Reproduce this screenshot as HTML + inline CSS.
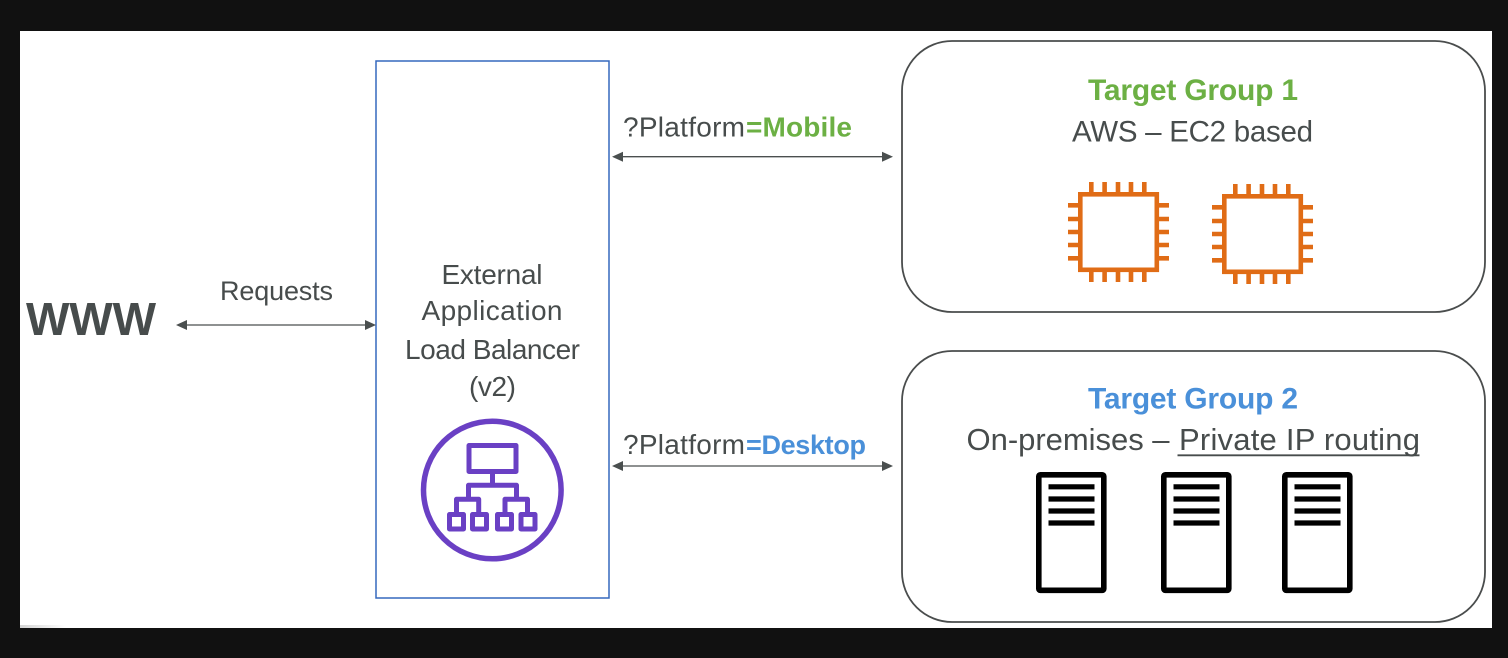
<!DOCTYPE html>
<html><head><meta charset="utf-8"><style>
html,body{margin:0;padding:0;background:#111;width:1508px;height:658px;overflow:hidden}
svg{display:block}
text{font-family:"Liberation Sans",sans-serif;fill:#474c4c}
.b{font-weight:bold}
</style></head><body>
<svg width="1508" height="658" viewBox="0 0 1508 658" xmlns="http://www.w3.org/2000/svg">
<defs>
<linearGradient id="g" x1="0" x2="1" y1="0" y2="0"><stop offset="0" stop-color="#d4d4d4"/><stop offset="1" stop-color="#fff"/></linearGradient>
<g id="chip" fill="none" stroke="#e06c16" stroke-width="4.600">
<rect x="2.300" y="2.300" width="76.500" height="75.500"/>
<path d="M13.300 2V-10M26.600 2V-10M40 2V-10M53 2V-10M66.300 2V-10M13.300 78V90M26.600 78V90M40 78V90M53 78V90M66.300 78V90M2 13.300H-10M2 27H-10M2 40H-10M2 53H-10M2 66.300H-10M79 13.300H91M79 27H91M79 40H91M79 53H91M79 66.300H91"/>
</g>
<g id="srv" fill="none" stroke="#000">
<rect x="2.800" y="2.800" width="65" height="115.500" rx="1.500" stroke-width="5.600"/>
<path d="M12.500 14.800H58.500M12.500 27H58.500M12.500 39H58.500M12.500 51H58.500" stroke-width="5.200"/>
</g>
</defs>
<rect width="1508" height="658" fill="#111"/>
<rect x="20" y="31" width="1472" height="597" fill="#fff"/>
<rect x="20" y="625" width="46" height="3" fill="url(#g)"/>

<rect x="376" y="61" width="233" height="537" fill="none" stroke="#3568bd" stroke-width="1.500"/>
<rect x="902" y="41" width="583" height="271" rx="50" fill="none" stroke="#4a4d4d" stroke-width="1.800"/>
<rect x="902" y="351" width="583" height="271" rx="50" fill="none" stroke="#4a4d4d" stroke-width="1.800"/>

<g stroke="#4a4f4f" stroke-width="1.300" fill="#4a4f4f">
<path d="M180 325H372" fill="none"/><path d="M176 325l11-5v10zM376 325l-11-5v10z" stroke="none"/>
<path d="M617 156.700H888" fill="none"/><path d="M612 156.700l11-5v10zM893 156.700l-11-5v10z" stroke="none"/>
<path d="M617 466H888" fill="none"/><path d="M612 466l11-5v10zM893 466l-11-5v10z" stroke="none"/>
</g>

<text class="b" x="26" y="335" font-size="46" textLength="130">WWW</text>
<text x="220" y="300" font-size="27" textLength="113">Requests</text>

<text x="441.500" y="284" font-size="28" textLength="101">External</text>
<text x="421.500" y="320" font-size="28" textLength="141">Application</text>
<text x="405" y="359" font-size="28" textLength="175">Load Balancer</text>
<text x="469" y="396" font-size="28" textLength="47">(v2)</text>

<text x="623" y="136.700" font-size="28" textLength="122">?Platform</text>
<text class="b" x="746" y="136.700" font-size="28" textLength="106" style="fill:#6cb044">=Mobile</text>
<text x="623" y="454" font-size="28" textLength="122">?Platform</text>
<text class="b" x="746" y="454" font-size="27" textLength="120" style="fill:#4a90d9">=Desktop</text>

<text class="b" x="1088" y="100" font-size="30" textLength="210" style="fill:#6cb044">Target Group 1</text>
<text x="1072" y="141.500" font-size="29.500" textLength="241">AWS – EC2 based</text>
<text class="b" x="1088" y="408.500" font-size="30" textLength="210" style="fill:#4a90d9">Target Group 2</text>
<text x="966.500" y="450" font-size="31" textLength="203">On-premises –</text>
<text x="1179" y="450" font-size="31" textLength="241">Private IP routing</text>
<path d="M1177.500 455.300H1419.500" stroke="#474c4c" stroke-width="1.800"/>

<use href="#chip" x="1078" y="192"/>
<use href="#chip" x="1222" y="194"/>
<use href="#srv" x="1036" y="472"/>
<use href="#srv" x="1161" y="472"/>
<use href="#srv" x="1282" y="472"/>

<g fill="none" stroke="#6a40c4" stroke-width="5" stroke-linejoin="round">
<circle cx="492.300" cy="490" r="68.800" stroke-width="5.500"/>
<rect x="469" y="445.500" width="47" height="26"/>
<path d="M492.500 473V485.300M468.500 499V485.300H516.500V499M456.500 512V499.300H478.700V512M505 512V499.300H527.500V512"/>
<rect x="449.500" y="514.500" width="14" height="14.500"/>
<rect x="472.500" y="514.500" width="14" height="14.500"/>
<rect x="497.500" y="514.500" width="14" height="14.500"/>
<rect x="521" y="514.500" width="14" height="14.500"/>
</g>
</svg>
</body></html>
